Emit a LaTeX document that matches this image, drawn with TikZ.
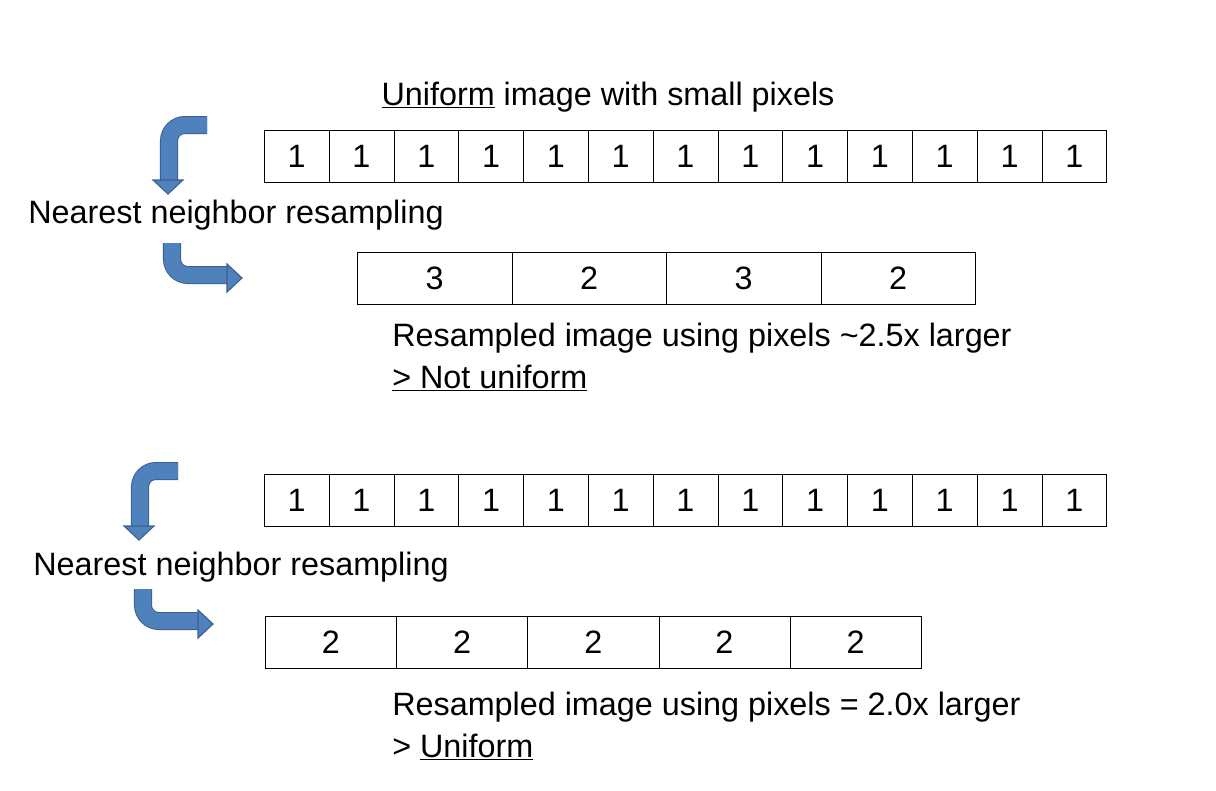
\documentclass[tikz,border=0pt]{standalone}
\usepackage{fontspec}
\setmainfont{Liberation Sans}
\usetikzlibrary{positioning,calc}
\definecolor{bentblue}{HTML}{4F81BD}
\definecolor{bentedge}{HTML}{3A6090}

\begin{document}
\begin{tikzpicture}[x=0.025cm,y=-0.025cm,
  every node/.style={font=\fontsize{23}{26}\selectfont},
  cell/.style={draw,thin,minimum height=52*0.025cm,inner sep=0pt,anchor=north west},
  label text/.style={anchor=west,inner sep=0pt},
  bent/.style={line width=0.45cm,bentedge},
  bentin/.style={line width=0.4cm,bentblue}
]
\useasboundingbox (0,0) rectangle (1216,790);

% small pixels, top
\foreach \i in {0,...,12}
  \node[cell,minimum width=64.8*0.025cm] (a\i) at ({264+64.8*\i},130) {1};
% resampled 2.5x
\foreach \v [count=\i from 0] in {3,2,3,2}
  \node[cell,minimum width=154.5*0.025cm] (b\i) at ({357+154.5*\i},252) {\v};
% small pixels, bottom
\foreach \i in {0,...,12}
  \node[cell,minimum width=64.8*0.025cm] (c\i) at ({264+64.8*\i},474) {1};
% resampled 2.0x
\foreach \i in {0,...,4}
  \node[cell,minimum width=131.2*0.025cm] (d\i) at ({265+131.2*\i},616) {2};

\node (t1) at (608,97) {\underline{Uniform} image with small pixels};
\node (n1) at (236,215) {Nearest neighbor resampling};
\node[label text] (r1) at (392,338) {Resampled image using pixels \textasciitilde2.5x larger};
\node[label text] (u1) at (392,378) {\underline{> Not uniform}};
\node (n2) at (241,567) {Nearest neighbor resampling};
\node[label text] (r2) at (392,707) {Resampled image using pixels = 2.0x larger};
\node[label text] (u2) at (392,747) {> \underline{Uniform}};

% bent arrows
\foreach \dx/\dy in {0/0,-29/346}{
  \begin{scope}[shift={(\dx,\dy)}]
    \foreach \s in {bent,bentin}{
      \draw[\s,rounded corners=0.4cm] (207,125) -- (169,125) -- (169,181);
      \draw[\s,rounded corners=0.4cm] (172,243) -- (172,275) -- (228,275);
    }
    \filldraw[bentblue,draw=bentedge,thick] (153,180) -- (183,180) -- (168,194) -- cycle;
    \filldraw[bentblue,draw=bentedge,thick] (227,264) -- (227,292) -- (242,278) -- cycle;
  \end{scope}
}
\end{tikzpicture}
\end{document}
